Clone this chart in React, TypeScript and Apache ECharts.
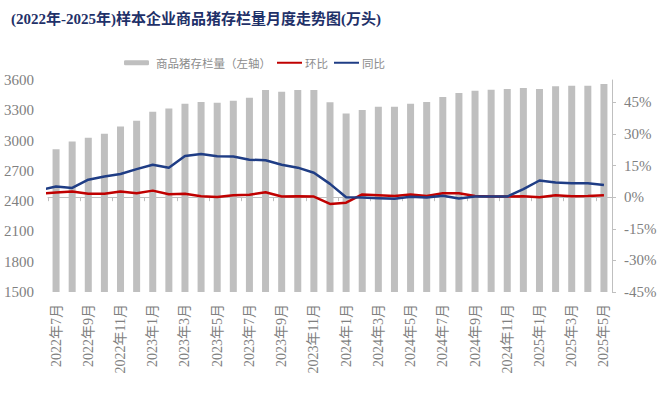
import React, { useEffect, useRef } from "react";
import * as echarts from "echarts";

const titleText = "(2022年-2025年)样本企业商品猪存栏量月度走势图(万头)";

const months = [
  "2022年7月", "2022年8月", "2022年9月", "2022年10月", "2022年11月", "2022年12月",
  "2023年1月", "2023年2月", "2023年3月", "2023年4月", "2023年5月", "2023年6月",
  "2023年7月", "2023年8月", "2023年9月", "2023年10月", "2023年11月", "2023年12月",
  "2024年1月", "2024年2月", "2024年3月", "2024年4月", "2024年5月", "2024年6月",
  "2024年7月", "2024年8月", "2024年9月", "2024年10月", "2024年11月", "2024年12月",
  "2025年1月", "2025年2月", "2025年3月", "2025年4月", "2025年5月",
];

// 商品猪存栏量（万头）
const inventory = [
  2915, 2990, 3028, 3067, 3140, 3196,
  3286, 3318, 3365, 3382, 3375, 3395,
  3424, 3500, 3484, 3500, 3500, 3380,
  3269, 3302, 3335, 3335, 3365, 3382,
  3431, 3471, 3494, 3504, 3511, 3521,
  3511, 3537, 3543, 3543, 3560,
];

// 环比 (%), first value = 2022年6月 (drawn just left of the first bar, clipped by the plot)
const mom = [
  1.6,
  2.2, 2.7, 1.6, 1.6, 2.7, 1.9,
  3.1, 1.4, 1.6, 0.4, 0.1, 0.9,
  1.2, 2.3, 0.3, 0.4, 0.3, -3.2,
  -2.6, 1.3, 0.9, 0.5, 1.3, 0.6,
  1.9, 1.9, 0.6, 0.3, 0.3, 0.4,
  0.0, 0.9, 0.4, 0.5, 0.9,
];

// 同比 (%), first value = 2022年6月
const yoy = [
  3.3,
  5.1, 4.4, 8.3, 9.8, 11.0, 13.3,
  15.4, 14.0, 19.5, 20.5, 19.4, 19.3,
  17.8, 17.5, 15.4, 14.0, 11.6, 6.3,
  0.0, -0.2, -0.5, -0.8, 0.2, -0.2,
  0.7, -0.6, 0.3, 0.3, 0.3, 3.8,
  7.9, 7.0, 6.6, 6.6, 5.8,
];

const serif = "Liberation Serif, Times New Roman, Noto Sans CJK SC, serif";
const grey = "#808080";
const transparentItem = { color: "rgba(0,0,0,0)", borderColor: "rgba(0,0,0,0)", borderWidth: 0 };

export default function App() {
  const ref = useRef<HTMLDivElement>(null);
  useEffect(() => {
    if (!ref.current) return;
    const chart = echarts.init(ref.current, undefined, { renderer: "svg" });
    const toPts = (arr: number[]) => arr.map((v, i) => [i - 0.5, v]);
    chart.setOption({
      animation: false,
      backgroundColor: "#ffffff",
      title: {
        text: titleText,
        left: 11,
        top: 11,
        padding: 0,
        textStyle: {
          fontFamily: serif,
          fontWeight: "bold",
          fontSize: 15,
          color: "#1f3169",
        },
      },
      legend: {
        top: 52,
        left: 119,
        itemWidth: 25,
        itemHeight: 5,
        itemGap: 5,
        data: [
          { name: "商品猪存栏量（左轴）", textStyle: { padding: [0, 0, 0, 2] } },
          { name: "环比", itemStyle: transparentItem, textStyle: { padding: [0, 0, 0, -2] } },
          { name: "同比", itemStyle: transparentItem, textStyle: { padding: [0, 0, 0, -2] } },
        ],
        textStyle: {
          fontFamily: "Noto Sans CJK SC",
          fontSize: 11.5,
          color: "#8c8c8c",
        },
      },
      grid: { left: 48, right: 48, top: 80, bottom: 102, containLabel: false },
      xAxis: [
        {
          type: "category",
          data: months,
          boundaryGap: true,
          axisLine: { show: true, lineStyle: { color: "#bfbfbf", width: 1 } },
          axisTick: { show: true, interval: 1, length: 4, lineStyle: { color: "#bfbfbf" } },
          axisLabel: {
            interval: 1,
            rotate: 90,
            fontFamily: serif,
            fontSize: 14,
            color: grey,
            margin: 12,
          },
          splitLine: { show: false },
        },
        { type: "value", min: 0, max: months.length, show: false, position: "bottom" },
      ],
      yAxis: [
        {
          type: "value",
          min: 1500,
          max: 3600,
          interval: 300,
          axisLine: { show: false },
          axisTick: { show: false },
          splitLine: { show: false },
          axisLabel: {
            fontFamily: serif,
            fontSize: 15,
            color: grey,
            margin: 14,
            formatter: (v: number) => String(v),
          },
        },
        {
          type: "value",
          position: "right",
          min: -45,
          max: 55.6,
          interval: 15,
          axisLine: { show: true, lineStyle: { color: "#bfbfbf" } },
          axisTick: { show: true, length: 4, lineStyle: { color: "#bfbfbf" } },
          splitLine: { show: false },
          axisLabel: {
            fontFamily: serif,
            fontSize: 15,
            color: grey,
            margin: 12,
            showMaxLabel: false,
            formatter: (v: number) => (v > 50 ? "" : `${v}%`),
          },
        },
      ],
      series: [
        {
          name: "商品猪存栏量（左轴）",
          type: "bar",
          data: inventory,
          barWidth: 7,
          itemStyle: { color: "#bfbfbf" },
        },
        {
          name: "环比",
          type: "line",
          data: toPts(mom),
          xAxisIndex: 1,
          yAxisIndex: 1,
          symbol: "none",
          clip: true,
          lineStyle: { color: "#c00000", width: 2.5 },
          itemStyle: { color: "#c00000" },
        },
        {
          name: "同比",
          type: "line",
          data: toPts(yoy),
          xAxisIndex: 1,
          yAxisIndex: 1,
          symbol: "none",
          clip: true,
          lineStyle: { color: "#1f3d85", width: 2.5 },
          itemStyle: { color: "#1f3d85" },
        },
      ],
    });
    return () => chart.dispose();
  }, []);
  return <div ref={ref} style={{ width: 660, height: 394, position: "absolute", left: 0, top: 0 }} />;
}
